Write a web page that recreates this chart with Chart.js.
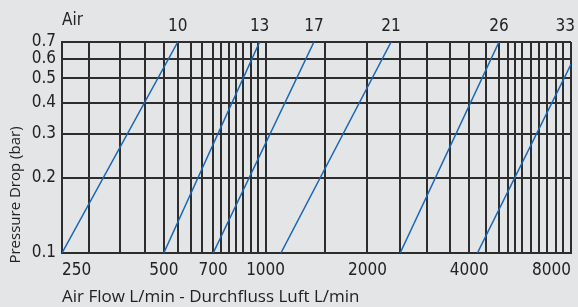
<!DOCTYPE html>
<html>
<head>
<meta charset="utf-8">
<script src="https://cdn.jsdelivr.net/npm/chart.js"></script>
<style>
  html, body { margin: 0; padding: 0; background: #e4e5e7; }
  #wrap { width: 578px; height: 307px; position: relative; }
</style>
</head>
<body>
<div id="wrap"><canvas id="flowChart"></canvas></div>
<script>
// Serien: Durchfluss (L/min) bei 0.1 bar und am oberen Ende
const seriesNames = ['10', '13', '17', '21', '26', '33'];
const flowStart = [250, 500, 700, 1110, 2500, 4230];
const flowEnd = [550, 960, 1390, 2350, 4900, 8000];
const dropStart = [0.1, 0.1, 0.1, 0.1, 0.1, 0.1];
const dropEnd = [0.7, 0.7, 0.7, 0.7, 0.7, 0.57];

// Achsen
const xGridValues = [250, 300, 370, 440, 500, 550, 600, 650, 700, 740, 780, 820, 860, 905, 950, 1000,
  1500, 2000, 2500, 3000, 3500, 4000, 4500, 4900, 5200, 5450, 5750, 6100, 6450, 6800, 7200, 7600, 8000];
const xTickLabels = [250, 500, 700, 1000, 2000, 4000, 8000];
const yTickValues = [0.1, 0.2, 0.3, 0.4, 0.5, 0.6, 0.7];

const lineColor = '#1766b4';
const gridColor = '#2d2d2d';
const narrowFamily = '"Liberation Sans Narrow", "DejaVu Sans Condensed", sans-serif';

const datasets = seriesNames.map(function(name, i) {
    return {
        label: name,
        data: [
            { x: flowStart[i], y: dropStart[i] },
            { x: flowEnd[i], y: dropEnd[i] }
        ],
        borderColor: lineColor,
        borderWidth: 1.5,
        pointRadius: 0,
        fill: false
    };
});

// Beschriftungen über den Kurven, "Air" und Y-Titel
const extraLabels = {
    id: 'extraLabels',
    afterDraw: function(chart) {
        const ctx = chart.ctx;
        const xs = chart.scales.x;
        const area = chart.chartArea;
        ctx.save();
        ctx.fillStyle = '#222';
        ctx.font = '17px ' + narrowFamily;
        ctx.textBaseline = 'middle';
        ctx.textAlign = 'left';
        ctx.fillText('Air', area.left, area.top - 21);
        seriesNames.forEach(function(name, i) {
            let px = xs.getPixelForValue(flowEnd[i]);
            const w = ctx.measureText(name).width;
            px = Math.min(px, chart.width - w / 2 - 3);
            ctx.textAlign = 'center';
            ctx.fillText(name, px, area.top - 15);
        });
        // Y-Titel
        ctx.font = '15px "Open Sans", sans-serif';
        ctx.translate(16, 195);
        ctx.rotate(-Math.PI / 2);
        ctx.textAlign = 'center';
        ctx.fillText('Pressure Drop (bar)', 0, 0);
        ctx.restore();
    }
};

const narrowFont = { family: narrowFamily, size: 17 };

new Chart(document.getElementById('flowChart'), {
    type: 'line',
    data: { datasets: datasets },
    options: {
        responsive: true,
        maintainAspectRatio: false,
        animation: false,
        layout: { padding: { top: 42, right: 6, left: 0, bottom: 0 } },
        plugins: {
            legend: { display: false },
            tooltip: { enabled: false }
        },
        scales: {
            x: {
                type: 'logarithmic',
                min: 250,
                max: 8000,
                afterBuildTicks: function(scale) {
                    scale.ticks = xGridValues.map(function(v) { return { value: v }; });
                },
                afterFit: function(scale) { scale.height = 54; },
                grid: { color: gridColor, lineWidth: 2, drawTicks: false },
                border: { color: gridColor, width: 2 },
                ticks: {
                    autoSkip: false,
                    maxRotation: 0,
                    align: 'inner',
                    padding: 7,
                    color: '#222',
                    font: narrowFont,
                    callback: function(value) {
                        return xTickLabels.indexOf(value) >= 0 ? String(value) : '';
                    }
                },
                title: {
                    display: true,
                    align: 'start',
                    text: 'Air Flow L/min - Durchfluss Luft L/min',
                    color: '#222',
                    font: { family: '"Open Sans", sans-serif', size: 17 },
                    padding: { top: 0, bottom: 0 }
                }
            },
            y: {
                type: 'logarithmic',
                min: 0.1,
                max: 0.7,
                afterBuildTicks: function(scale) {
                    scale.ticks = yTickValues.map(function(v) { return { value: v }; });
                },
                afterFit: function(scale) { scale.width = 62; },
                grid: { color: gridColor, lineWidth: 2, drawTicks: false },
                border: { color: gridColor, width: 2 },
                ticks: {
                    autoSkip: false,
                    padding: 6,
                    color: '#222',
                    font: narrowFont,
                    callback: function(value) { return String(value); }
                }
            }
        }
    },
    plugins: [extraLabels]
});
</script>
</body>
</html>
